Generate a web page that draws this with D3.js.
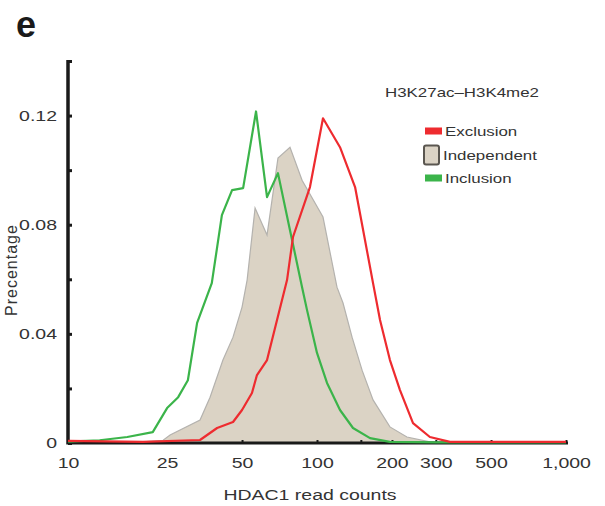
<!DOCTYPE html>
<html lang="en">
<head>
  <meta charset="UTF-8">
  <title>HDAC1 read counts</title>
  <script src="https://d3js.org/d3.v7.min.js"></script>
  <style>
    body { margin: 0; background: #fff; }
    svg { display: block; font-family: "Liberation Sans", Arial, sans-serif; }
    .axis text { fill: #333; font-size: 15px; }
    .axis line, .axis path { stroke: #1a1a1a; }
  </style>
</head>
<body>
<svg width="605" height="506"></svg>
<script>
// [read count, percentage]
const inclusion = [
  [10, 0.0005], [13.4, 0.001], [17.3, 0.0022], [21.9, 0.004], [25.0, 0.0128],
  [27.7, 0.0168], [30.3, 0.023], [33.0, 0.044], [37.8, 0.0586], [41.5, 0.0835],
  [45.6, 0.0927], [50.5, 0.0934], [56.9, 0.1215], [63.0, 0.0901], [69.7, 0.0989],
  [77.9, 0.078], [87.1, 0.0571], [91.2, 0.0487], [100, 0.033], [109.7, 0.022],
  [123.7, 0.0121], [139.5, 0.0055], [163.3, 0.0018], [196, 0.0004], [300, 0.0002],
  [1000, 0.0002]
];
const independent = [
  [10, 0], [20, 0.0004], [24.1, 0.001], [25.7, 0.0029], [33.9, 0.0084],
  [37.2, 0.0168], [41.9, 0.0304], [46.0, 0.0388], [50.0, 0.0498], [52.4, 0.0597],
  [56.4, 0.0861], [63.0, 0.0762], [69.7, 0.1044], [77.9, 0.1084], [87.1, 0.0963],
  [105.7, 0.0828], [120.3, 0.0571], [127.2, 0.0513], [138.3, 0.0388], [151.7, 0.0267],
  [167.9, 0.0158], [196.3, 0.0059], [229.7, 0.0022], [284, 0.0004], [400, 0],
  [1000, 0]
];
const exclusion = [
  [10, 0.0008], [20, 0.0004], [33.9, 0.0011], [39.7, 0.0055], [46.0, 0.0077],
  [50.0, 0.0121], [54.8, 0.0183], [57.4, 0.0249], [63.0, 0.0304], [69.1, 0.0451],
  [75.8, 0.0597], [80.1, 0.0755], [93.7, 0.0938], [105.7, 0.119], [123.7, 0.1084],
  [142.2, 0.0938], [167.9, 0.0586], [179.1, 0.0451], [196.3, 0.0304], [215.4, 0.0194],
  [243, 0.0073], [284, 0.0022], [342, 0.0004], [500, 0.0004], [1000, 0.0004]
];

const xTicks = [10, 25, 50, 100, 150, 200, 300, 500, 1000];
const xLabels = ['10', '25', '50', '100', '', '200', '300', '500', '1,000'];
const yTicks = [0, 0.02, 0.04, 0.06, 0.08, 0.10, 0.12, 0.14];
const yLabels = ['0', '', '0.04', '', '0.08', '', '0.12', ''];

const legendItems = [
  { name: 'Exclusion', kind: 'line', color: '#ee2b2f' },
  { name: 'Independent', kind: 'box', color: '#dbd3c5' },
  { name: 'Inclusion', kind: 'line', color: '#3bb44a' }
];

const SX = 1.3; // the source picture is stretched sideways

const svg = d3.select('svg');

const x = d3.scaleLog().domain([10, 1000]).range([68, 566]);
const y = d3.scaleLinear().domain([0, 0.14]).range([443, 61]);

// filled distribution
const area = d3.area()
  .x(d => x(d[0]))
  .y0(y(0))
  .y1(d => y(d[1]));

svg.append('path')
  .datum(independent)
  .attr('d', area)
  .attr('fill', '#dbd3c5')
  .attr('stroke', '#b4b2ae')
  .attr('stroke-width', 1.2);

// axes
const xAxis = svg.append('g')
  .attr('class', 'axis')
  .attr('transform', `translate(0,${y(0)})`)
  .call(d3.axisBottom(x)
    .tickValues(xTicks)
    .tickFormat((d, i) => xLabels[i])
    .tickSizeInner(-3)
    .tickSizeOuter(0)
    .tickPadding(14));
xAxis.select('.domain').attr('stroke-width', 3).attr('d', `M${x(10)},0H${x(1000) + 2}`);
xAxis.selectAll('.tick line').attr('stroke-width', 2);
xAxis.selectAll('text').attr('transform', `scale(${SX},1)`);

const yAxis = svg.append('g')
  .attr('class', 'axis')
  .attr('transform', `translate(${x(10)},0)`)
  .call(d3.axisLeft(y)
    .tickValues(yTicks)
    .tickFormat((d, i) => yLabels[i])
    .tickSizeInner(-4)
    .tickSizeOuter(0)
    .tickPadding(11 / SX));
yAxis.select('.domain').attr('stroke-width', 3.5).attr('d', `M0,${y(0) + 1.5}V${y(0.14) - 1}`);
yAxis.selectAll('.tick line').attr('stroke-width', 3);
yAxis.selectAll('text').attr('transform', `scale(${SX},1)`);

// lines
const line = d3.line()
  .x(d => x(d[0]))
  .y(d => y(d[1]));

svg.append('path')
  .datum(inclusion)
  .attr('d', line)
  .attr('fill', 'none')
  .attr('stroke', '#3bb44a')
  .attr('stroke-width', 2.2)
  .attr('stroke-linejoin', 'round');

svg.append('path')
  .datum(exclusion)
  .attr('d', line)
  .attr('fill', 'none')
  .attr('stroke', '#ee2b2f')
  .attr('stroke-width', 2.2)
  .attr('stroke-linejoin', 'round');

// labels
svg.append('text')
  .attr('x', 16)
  .attr('y', 37)
  .attr('font-size', 36)
  .attr('font-weight', 'bold')
  .attr('fill', '#1a1a1a')
  .text('e');

svg.append('text')
  .attr('transform', `translate(${310},500) scale(${SX},1)`)
  .attr('text-anchor', 'middle')
  .attr('font-size', 15)
  .attr('fill', '#333')
  .text('HDAC1 read counts');

svg.append('text')
  .attr('transform', 'translate(17,270) rotate(-90)')
  .attr('text-anchor', 'middle')
  .attr('font-size', 16)
  .attr('letter-spacing', 1)
  .attr('fill', '#333')
  .text('Precentage');

// legend
svg.append('text')
  .attr('transform', `translate(385,97) scale(${SX},1)`)
  .attr('font-size', 13)
  .attr('fill', '#333')
  .text('H3K27ac\u2013H3K4me2');

const lg = svg.append('g').attr('transform', 'translate(424,131)');
legendItems.forEach((d, i) => {
  const g = lg.append('g').attr('transform', `translate(0,${i * 23.5})`);
  if (d.kind === 'line') {
    g.append('rect').attr('x', 1).attr('y', -3.5).attr('width', 17).attr('height', 7).attr('fill', d.color);
  } else {
    g.append('rect').attr('x', 0).attr('y', -9).attr('width', 15).attr('height', 19).attr('rx', 2)
      .attr('fill', d.color).attr('stroke', '#5a5650').attr('stroke-width', 2);
  }
  g.append('text')
    .attr('transform', `translate(${d.kind === 'line' ? 21 : 19},5) scale(${SX},1)`)
    .attr('font-size', 13)
    .attr('fill', '#333')
    .text(d.name);
});
</script>
</body>
</html>
